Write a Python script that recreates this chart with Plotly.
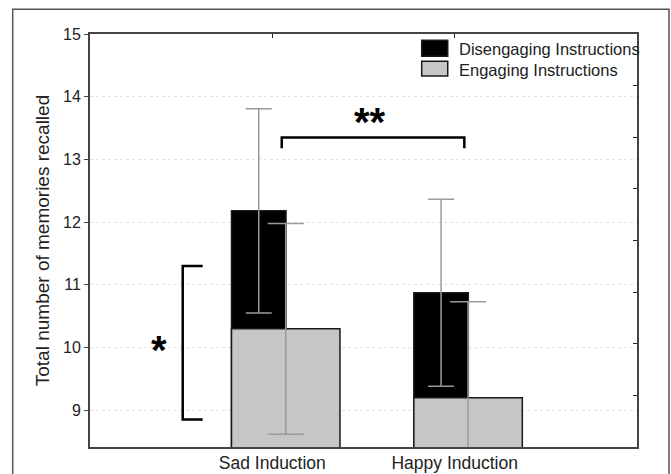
import plotly.graph_objects as go

# ---- data ----
categories = ["Sad Induction", "Happy Induction"]
cat_pos = [1, 2]
disengaging = [12.18, 10.875]
disengaging_err = [1.63, 1.49]
engaging = [10.30, 9.20]
engaging_err = [1.68, 1.53]
y_ticks = [9, 10, 11, 12, 13, 14, 15]
series_names = ["Disengaging Instructions", "Engaging Instructions"]

FONT = "Liberation Sans, Arial, sans-serif"
BLACK = "#000000"
GREY = "#c6c6c6"
ERR = "#9a9a9a"
OUTLINE = "#1a1a1a"

fig = go.Figure()

fig.add_trace(go.Bar(
    x=cat_pos, y=disengaging, name=series_names[0],
    offset=-0.224, width=0.299,
    marker=dict(color=BLACK, line=dict(color=OUTLINE, width=1.5)),
    error_y=dict(type="data", array=disengaging_err, visible=True,
                 color=ERR, thickness=1.5, width=13),
    showlegend=False, hoverinfo="skip",
))
fig.add_trace(go.Bar(
    x=cat_pos, y=engaging, name=series_names[1],
    offset=-0.224, width=0.595,
    marker=dict(color=GREY, line=dict(color=OUTLINE, width=1.5)),
    error_y=dict(type="data", array=engaging_err, visible=True,
                 color=ERR, thickness=1.5, width=18),
    showlegend=False, hoverinfo="skip",
))
# invisible trace for the secondary (tick-only) axes
fig.add_trace(go.Scatter(x=[None], y=[None], xaxis="x2", yaxis="y2",
                         showlegend=False, hoverinfo="skip"))

fig.update_layout(
    width=671, height=474,
    margin=dict(l=90, r=34, t=34, b=27),
    paper_bgcolor="white", plot_bgcolor="white",
    barmode="overlay",
    font=dict(family=FONT, color="#222"),
    xaxis=dict(
        range=[0, 3], tickvals=cat_pos, ticktext=categories,
        tickfont=dict(size=17.5, color="#222"),
        ticks="", ticklabelstandoff=-1, automargin=False,
        showgrid=False, zeroline=False,
        showline=True, linecolor="#444", linewidth=2, mirror=True,
    ),
    yaxis=dict(
        range=[8.415, 15], tickvals=y_ticks, automargin=False,
        tickfont=dict(size=16, color="#222"),
        ticks="outside", ticklen=4, tickcolor="#444",
        showgrid=True, gridcolor="#e3e3e3", griddash="dot", gridwidth=1,
        zeroline=False,
        showline=True, linecolor="#444", linewidth=2, mirror=True,
        title=dict(text="Total number of memories recalled",
                   font=dict(size=19, color="#222"), standoff=8),
    ),
    xaxis2=dict(
        overlaying="x", side="top", range=[0, 3], tickvals=cat_pos,
        ticks="inside", ticklen=4, tickcolor="#222", showticklabels=False,
        showgrid=False, zeroline=False, showline=False, automargin=False,
    ),
    yaxis2=dict(
        overlaying="y", side="right", range=[0, 8], tickvals=[1, 2, 3, 4, 5, 6, 7],
        ticks="inside", ticklen=4, tickcolor="#222", showticklabels=False,
        showgrid=False, zeroline=False, showline=False, automargin=False,
    ),
)

shapes = []
# outer frame
shapes.append(dict(type="rect", xref="paper", yref="paper",
                   x0=-0.1413, x1=1.0585, y0=-0.3, y1=1.0598,
                   line=dict(color="#555", width=1.5), layer="below"))
# significance brackets
shapes.append(dict(type="path", xref="x", yref="y",
                   path="M 1.0516 13.18 L 1.0516 13.35 L 2.053 13.35 L 2.053 13.18",
                   line=dict(color="#000", width=2.5)))
shapes.append(dict(type="path", xref="x", yref="y",
                   path="M 0.618 11.30 L 0.5085 11.30 L 0.5085 8.855 L 0.618 8.855",
                   line=dict(color="#000", width=2.5)))
# custom legend swatches
shapes.append(dict(type="rect", xref="paper", yref="paper",
                   x0=0.6064, x1=0.6540, y0=0.9460, y1=0.9847,
                   fillcolor=BLACK, line=dict(color=OUTLINE, width=1.5)))
shapes.append(dict(type="rect", xref="paper", yref="paper",
                   x0=0.6064, x1=0.6540, y0=0.8982, y1=0.9339,
                   fillcolor=GREY, line=dict(color=OUTLINE, width=1.5)))
fig.update_layout(shapes=shapes)

annotations = [
    dict(text=series_names[0], xref="paper", yref="paper", x=0.6704, y=0.9630,
         xanchor="left", yanchor="middle", showarrow=False,
         font=dict(size=16.5, color="#222")),
    dict(text=series_names[1], xref="paper", yref="paper", x=0.6704, y=0.9121,
         xanchor="left", yanchor="middle", showarrow=False,
         font=dict(size=16.5, color="#222")),
    dict(text="<b>**</b>", xref="x", yref="y", x=1.536, y=13.68, yshift=-5,
         xanchor="center", yanchor="middle", showarrow=False,
         font=dict(size=40, color="#000")),
    dict(text="<b>*</b>", xref="x", yref="y", x=0.3785, y=10.04, yshift=-5,
         xanchor="center", yanchor="middle", showarrow=False,
         font=dict(size=40, color="#000")),
]
fig.update_layout(annotations=annotations)

fig.write_html("out.html", config={"displayModeBar": False},
               post_script="document.body.style.margin='0';document.body.style.overflow='hidden';")
